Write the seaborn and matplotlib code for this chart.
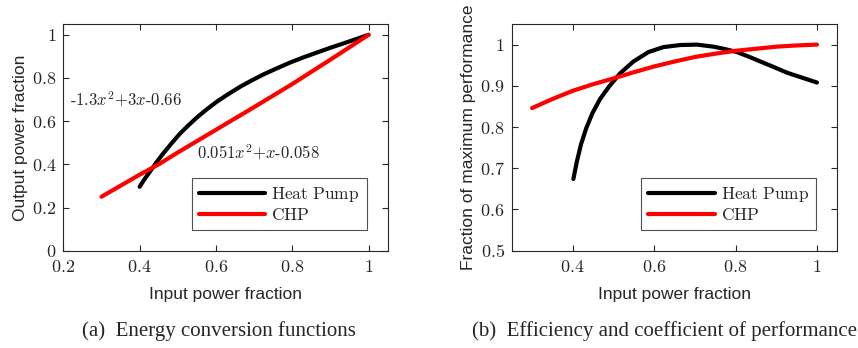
import numpy as np
import pandas as pd
import matplotlib
matplotlib.use("Agg")
import matplotlib.pyplot as plt
from matplotlib.ticker import FuncFormatter, MultipleLocator
import seaborn as sns

# values
hp_conv_x = [0.40, 0.413, 0.427, 0.444, 0.462, 0.484, 0.506, 0.528, 0.550, 0.576,
             0.602, 0.632, 0.663, 0.694, 0.725, 0.760, 0.795, 0.830, 0.865, 0.900,
             0.934, 0.967, 1.0]
hp_conv_y = [0.296, 0.332, 0.366, 0.409, 0.451, 0.498, 0.543, 0.581, 0.617, 0.655,
             0.690, 0.725, 0.759, 0.789, 0.817, 0.845, 0.872, 0.896, 0.918, 0.940,
             0.960, 0.980, 1.0]
chp_conv_x = [0.30, 0.40, 0.45, 0.50, 0.60, 0.70, 0.80, 0.90, 1.0]
chp_conv_y = [0.250, 0.352, 0.400, 0.455, 0.560, 0.665, 0.772, 0.885, 1.0]

hp_eff_x = [0.4015, 0.410, 0.420, 0.433, 0.448, 0.467, 0.489, 0.516, 0.549, 0.586,
            0.623, 0.664, 0.705, 0.746, 0.775, 0.803, 0.832, 0.861, 0.893, 0.926,
            0.963, 1.0]
hp_eff_y = [0.674, 0.716, 0.757, 0.797, 0.833, 0.868, 0.898, 0.930, 0.959, 0.982,
            0.994, 0.999, 1.0, 0.995, 0.989, 0.982, 0.971, 0.959, 0.946, 0.932,
            0.920, 0.908]
chp_eff_x = [0.30, 0.35, 0.40, 0.45, 0.50, 0.55, 0.60, 0.65, 0.70, 0.75, 0.80,
             0.85, 0.90, 0.95, 1.0]
chp_eff_y = [0.846, 0.868, 0.888, 0.904, 0.918, 0.933, 0.947, 0.959, 0.970, 0.978,
             0.985, 0.990, 0.995, 0.998, 1.0]

series_names = ["Heat Pump", "CHP"]
series_colors = ["black", "#ff0000"]

sns.set_style("ticks")
plt.rcParams["font.family"] = ["Liberation Sans", "DejaVu Sans"]
plt.rcParams["mathtext.fontset"] = "cm"
plt.rcParams["axes.linewidth"] = 0.8

fig = plt.figure(figsize=(8.58, 3.48), dpi=100)
ax1 = fig.add_axes([0.0738, 0.2796, 0.378, 0.6514])
ax2 = fig.add_axes([0.5964, 0.2796, 0.3795, 0.6514])

conv = pd.concat([
    pd.DataFrame({"x": hp_conv_x, "y": hp_conv_y, "s": series_names[0]}),
    pd.DataFrame({"x": chp_conv_x, "y": chp_conv_y, "s": series_names[1]}),
])
eff = pd.concat([
    pd.DataFrame({"x": hp_eff_x, "y": hp_eff_y, "s": series_names[0]}),
    pd.DataFrame({"x": chp_eff_x, "y": chp_eff_y, "s": series_names[1]}),
])

tex_fmt = FuncFormatter(lambda v, p: "$%g$" % round(v, 2))
label_names = [r"$\mathrm{Heat\ Pump}$", r"$\mathrm{CHP}$"]

for ax, df in [(ax1, conv), (ax2, eff)]:
    for name, col, lab in zip(series_names, series_colors, label_names):
        sub = df[df["s"] == name]
        sns.lineplot(data=sub, x="x", y="y", color=col, linewidth=3.0,
                     label=lab, ax=ax, sort=False)
    ax.tick_params(direction="in", top=True, right=True, length=4,
                   labelsize=13, colors="#262626")
    ax.tick_params(axis="x", pad=6)
    ax.tick_params(axis="y", pad=5)
    ax.xaxis.set_major_formatter(tex_fmt)
    ax.yaxis.set_major_formatter(tex_fmt)
    for sp in ax.spines.values():
        sp.set_color("#262626")
    ax.set_xlabel("Input power fraction", fontsize=12.5, color="#262626", labelpad=8)
    leg = ax.legend(loc="lower right", bbox_to_anchor=(0.935, 0.091), fontsize=12.5,
                    frameon=True, fancybox=False, edgecolor="#262626",
                    borderaxespad=0, handlelength=3.85, borderpad=0.4,
                    labelspacing=0.2, handletextpad=0.35)
    leg.get_frame().set_linewidth(0.8)

ax1.set_xlim(0.2, 1.05)
ax1.set_ylim(0, 1.05)
ax1.xaxis.set_major_locator(MultipleLocator(0.2))
ax1.yaxis.set_major_locator(MultipleLocator(0.2))
ax1.set_ylabel("Output power fraction", fontsize=12.5, color="#262626", labelpad=3)
ax1.text(0.218, 0.70, r"$\text{-1.3}x^2\text{+3}x\text{-0.66}$", fontsize=12,
         va="center", ha="left")
ax1.text(0.55, 0.454, r"$\text{0.051}x^2\text{+}x\text{-0.058}$", fontsize=12,
         va="center", ha="left")

ax2.set_xlim(0.25, 1.05)
ax2.set_ylim(0.5, 1.05)
ax2.set_xticks([0.4, 0.6, 0.8, 1.0])
ax2.yaxis.set_major_locator(MultipleLocator(0.1))
ax2.set_ylabel("Fraction of maximum performance", fontsize=12.5, color="#262626",
               labelpad=3)

fig.text(0.2547, 0.049, "(a)  Energy conversion functions", ha="center",
         va="center", fontsize=15, family="Liberation Serif")
fig.text(0.774, 0.049, "(b)  Efficiency and coefficient of performance",
         ha="center", va="center", fontsize=15, family="Liberation Serif")

fig.savefig("out.png", dpi=100)
